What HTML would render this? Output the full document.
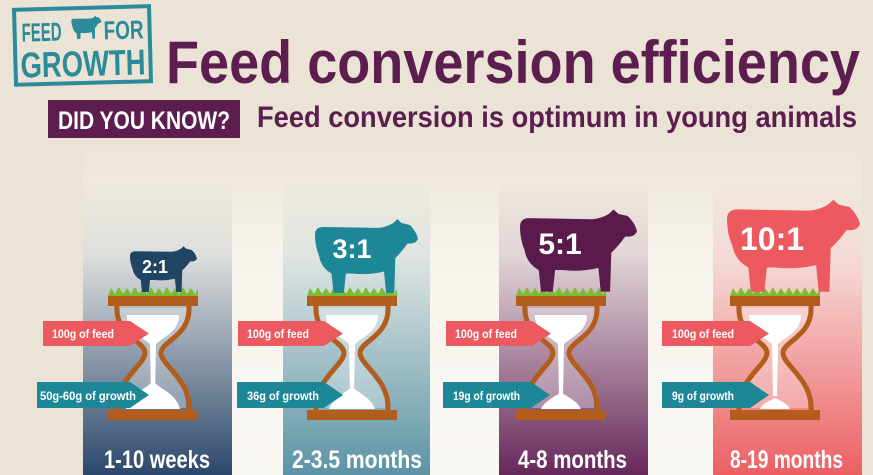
<!DOCTYPE html>
<html><head><meta charset="utf-8"><style>
html,body{margin:0;padding:0;background:#ebe3d5;}
svg{display:block;font-family:"Liberation Sans",sans-serif;font-weight:bold;}
</style></head><body>
<svg width="873" height="475" viewBox="0 0 873 475" xmlns="http://www.w3.org/2000/svg">
<defs>
<linearGradient id="bgp" x1="0" y1="0" x2="0" y2="1">
<stop offset="0" stop-color="#ebe3d5"/><stop offset="0.35" stop-color="#f6f3ec"/><stop offset="1" stop-color="#faf8f3"/></linearGradient>
<linearGradient id="g1" x1="0" y1="0" x2="0" y2="1"><stop offset="0" stop-color="#2d4a6d" stop-opacity="0"/><stop offset="0.25" stop-color="#2d4a6d" stop-opacity="0.12"/><stop offset="1" stop-color="#2b476b"/></linearGradient>
<linearGradient id="g2" x1="0" y1="0" x2="0" y2="1"><stop offset="0" stop-color="#5e97a8" stop-opacity="0"/><stop offset="0.25" stop-color="#5e97a8" stop-opacity="0.15"/><stop offset="1" stop-color="#5b93a5"/></linearGradient>
<linearGradient id="g3" x1="0" y1="0" x2="0" y2="1"><stop offset="0" stop-color="#6b2c5e" stop-opacity="0"/><stop offset="0.25" stop-color="#6b2c5e" stop-opacity="0.15"/><stop offset="1" stop-color="#66275a"/></linearGradient>
<linearGradient id="g4" x1="0" y1="0" x2="0" y2="1"><stop offset="0" stop-color="#ec5f63" stop-opacity="0"/><stop offset="0.3" stop-color="#ec5f63" stop-opacity="0.2"/><stop offset="1" stop-color="#ec5f63"/></linearGradient>
<g id="hg">
<path d="M-33,12 C-35,40 -6,45 -6,57 C-6,69 -35,84 -33,112 L33,112 C35,84 6,69 6,57 C6,45 35,40 33,12 Z" fill="#ffffff" opacity="0.3"/>
<path d="M-36,10 C-38,40 -8,45 -8,57 C-8,69 -38,84 -36,114" fill="none" stroke="#b25d1c" stroke-width="5"/>
<path d="M36,10 C38,40 8,45 8,57 C8,69 38,84 36,114" fill="none" stroke="#b25d1c" stroke-width="5"/>
<rect x="-45" y="0" width="90" height="10" fill="#b25d1c"/>
<rect x="-45" y="114" width="90" height="10" fill="#b25d1c"/>
<path d="M-45,0 L-42,-8 L-38,-2 L-34,-9 L-30,-2 L-26,-8 L-22,-2 L-18,-9 L-14,-2 L-10,-8 L-6,-2 L-2,-9 L2,-2 L6,-8 L10,-2 L14,-9 L18,-2 L22,-8 L26,-2 L30,-9 L34,-2 L38,-8 L42,-2 L45,-7 L45,0 Z" fill="#7dbb2e"/>
<path d="M-26,19 L26,19 C26,35 12,40 3,48 L2,100 L-2,100 L-3,48 C-12,40 -26,35 -26,19 Z" fill="#fff"/>
</g>
<path id="cow" d="M0,10 Q0,2 8,2 L62,3 Q70,2 76,-2 L80,-6 L84,-2 L92,0 Q98,6 100,14 Q98,20 90,19 Q84,28 78,34 L77,70 L69,70 L67,48 Q52,52 36,50 L30,50 L28,70 L18,70 L16,50 Q6,44 4,32 Q0,22 0,10 Z"/>
</defs>
<rect width="873" height="475" fill="#ebe3d5"/>
<rect x="83" y="140" width="779" height="335" fill="url(#bgp)"/>
<rect x="83" y="180" width="149" height="295" fill="url(#g1)"/>
<rect x="283" y="180" width="147" height="295" fill="url(#g2)"/>
<rect x="499" y="180" width="149" height="295" fill="url(#g3)"/>
<rect x="713" y="180" width="149" height="295" fill="url(#g4)"/>

<g transform="rotate(-1.5 82 45)">
<rect x="15" y="8" width="135" height="75" fill="none" stroke="#2b8b9a" stroke-width="4"/>
<text x="22" y="40" font-size="26" fill="#2b8b9a" textLength="40" lengthAdjust="spacingAndGlyphs">FEED</text>
<use href="#cow" transform="translate(72,18) scale(0.3,0.3)" fill="#2b8b9a"/>
<text x="104" y="40" font-size="26" fill="#2b8b9a" textLength="40" lengthAdjust="spacingAndGlyphs">FOR</text>
<text x="20" y="76" font-size="36" fill="#2b8b9a" textLength="125" lengthAdjust="spacingAndGlyphs">GROWTH</text>
</g>
<text x="166" y="83" font-size="60" fill="#5c1d4f" textLength="694" lengthAdjust="spacingAndGlyphs">Feed conversion efficiency</text>
<rect x="48" y="100" width="192" height="38" fill="#5e1d4f"/>
<text x="58" y="129" font-size="25" fill="#fff" textLength="172" lengthAdjust="spacingAndGlyphs">DID YOU KNOW?</text>
<text x="257" y="127" font-size="30" fill="#5c1d4f" textLength="600" lengthAdjust="spacingAndGlyphs">Feed conversion is optimum in young animals</text>

<use href="#hg" transform="translate(153,296)"/>
<use href="#hg" transform="translate(352,296)"/>
<use href="#hg" transform="translate(561,296)"/>
<use href="#hg" transform="translate(775,296)"/>
<path d="M126,409 C130,392 150,388 153,380 C156,388 176,392 180,409 Z" fill="#fff"/>
<path d="M329,409 C333,397 348,392 352,386 C356,392 371,397 375,409 Z" fill="#fff"/>
<path d="M541,409 C545,400 557,396 561,392 C565,396 577,400 581,409 Z" fill="#fff"/>
<path d="M760,409 C763,403 771,400 775,398 C779,400 787,403 790,409 Z" fill="#fff"/>

<use href="#cow" transform="translate(130,250) scale(0.67,0.6)" fill="#1f4464"/>
<text x="155" y="273" font-size="18" fill="#fff" text-anchor="middle">2:1</text>
<use href="#cow" transform="translate(315,225) scale(1.03,0.97)" fill="#1d8797"/>
<text x="352" y="258" font-size="27" fill="#fff" text-anchor="middle">3:1</text>
<use href="#cow" transform="translate(520,216) scale(1.17,1.08)" fill="#5a1a4c"/>
<text x="560" y="254" font-size="30" fill="#fff" text-anchor="middle">5:1</text>
<use href="#cow" transform="translate(727,207) scale(1.33,1.21)" fill="#ec5a5f"/>
<text x="772" y="250" font-size="32" fill="#fff" text-anchor="middle">10:1</text>

<g fill="#ec5a5f">
<polygon points="43,321 130,321 149,333.5 130,346 43,346"/>
<polygon points="238,321 324,321 343,333.5 324,346 238,346"/>
<polygon points="446,321 532,321 551,333.5 532,346 446,346"/>
<polygon points="662,321 750,321 769,333.5 750,346 662,346"/>
</g>
<g fill="#1d8797">
<polygon points="37,382 130,382 149,395 130,408 37,408"/>
<polygon points="237,382 324,382 343,395 324,408 237,408"/>
<polygon points="443,382 531,382 550,395 531,408 443,408"/>
<polygon points="662,382 750,382 769,395 750,408 662,408"/>
</g>
<g fill="#fff" font-size="12">
<text x="52" y="338" textLength="62" lengthAdjust="spacingAndGlyphs">100g of feed</text>
<text x="247" y="338" textLength="62" lengthAdjust="spacingAndGlyphs">100g of feed</text>
<text x="455" y="338" textLength="62" lengthAdjust="spacingAndGlyphs">100g of feed</text>
<text x="672" y="338" textLength="62" lengthAdjust="spacingAndGlyphs">100g of feed</text>
<text x="40" y="400" textLength="96" lengthAdjust="spacingAndGlyphs">50g-60g of growth</text>
<text x="247" y="400" textLength="72" lengthAdjust="spacingAndGlyphs">36g of growth</text>
<text x="453" y="400" textLength="67" lengthAdjust="spacingAndGlyphs">19g of growth</text>
<text x="672" y="400" textLength="62" lengthAdjust="spacingAndGlyphs">9g of growth</text>
</g>
<g fill="#fff" font-size="25">
<text x="104" y="468" textLength="106" lengthAdjust="spacingAndGlyphs">1-10 weeks</text>
<text x="292" y="468" textLength="130" lengthAdjust="spacingAndGlyphs">2-3.5 months</text>
<text x="518" y="468" textLength="109" lengthAdjust="spacingAndGlyphs">4-8 months</text>
<text x="730" y="468" textLength="113" lengthAdjust="spacingAndGlyphs">8-19 months</text>
</g>
</svg>
</body></html>
